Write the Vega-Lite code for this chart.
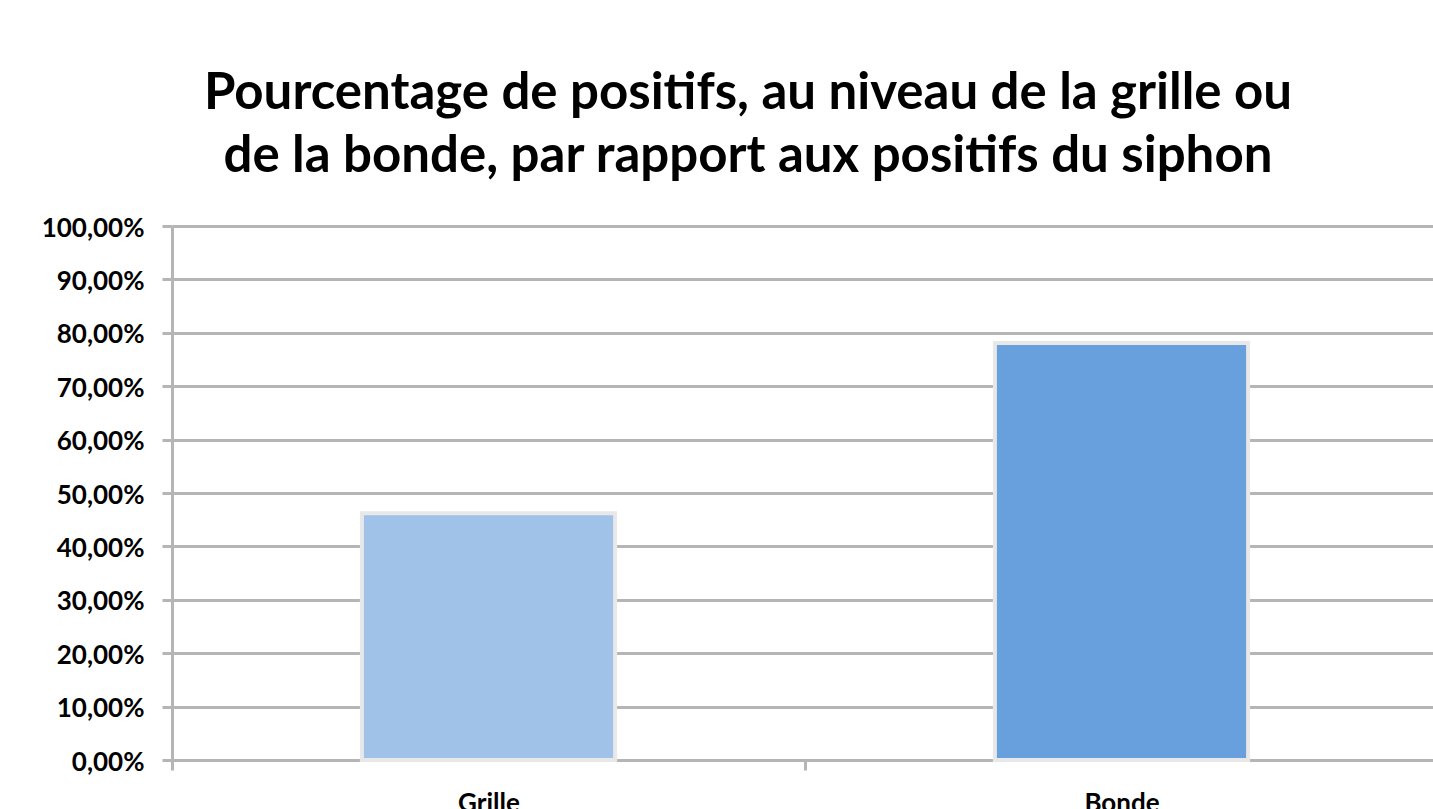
{
  "$schema": "https://vega.github.io/schema/vega-lite/v6.json",
  "autosize": {"type": "none"},
  "padding": {"left": 172, "top": 226, "right": 0, "bottom": 49},
  "width": 1266,
  "height": 534,
  "background": "white",
  "title": {
    "text": ["Pourcentage de positifs, au niveau de la grille ou", "de la bonde, par rapport aux positifs du siphon"],
    "font": "Lato",
    "fontWeight": "bold",
    "fontSize": 51,
    "lineHeight": 63,
    "color": "#000000",
    "anchor": "middle",
    "dx": -57,
    "offset": 32
  },
  "data": {
    "values": [
      {"categorie": "Grille", "pourcentage": 0.462},
      {"categorie": "Bonde", "pourcentage": 0.781}
    ]
  },
  "mark": {"type": "bar", "stroke": "#e8e8e8", "strokeWidth": 4, "width": {"band": 0.4}},
  "encoding": {
    "x": {
      "field": "categorie",
      "type": "nominal",
      "sort": ["Grille", "Bonde"],
      "scale": {"paddingInner": 0, "paddingOuter": 0},
      "axis": {
        "title": null,
        "labelAngle": 0,
        "labelFont": "Lato",
        "labelFontSize": 26,
        "labelFontWeight": "bold",
        "labelColor": "#000000",
        "labelPadding": 20,
        "tickBand": "extent",
        "tickSize": 10,
        "tickWidth": 3,
        "tickColor": "#b5b5b5",
        "domainColor": "#b5b5b5",
        "domainWidth": 3,
        "grid": false
      }
    },
    "y": {
      "field": "pourcentage",
      "type": "quantitative",
      "scale": {"domain": [0, 1], "nice": false},
      "axis": {
        "title": null,
        "values": [0, 0.1, 0.2, 0.3, 0.4, 0.5, 0.6, 0.7, 0.8, 0.9, 1],
        "labelExpr": "replace(format(datum.value, '.2%'), '.', ',')",
        "labelFont": "Lato",
        "labelFontSize": 26,
        "labelFontWeight": "bold",
        "labelColor": "#000000",
        "labelPadding": 18,
        "labelOffset": 2,
        "tickSize": 10,
        "tickWidth": 3,
        "tickColor": "#b5b5b5",
        "domainColor": "#b5b5b5",
        "domainWidth": 3,
        "grid": true,
        "gridColor": "#b5b5b5",
        "gridWidth": 3
      }
    },
    "color": {
      "field": "categorie",
      "type": "nominal",
      "scale": {"domain": ["Grille", "Bonde"], "range": ["#A0C2E9", "#67A0DC"]},
      "legend": null
    }
  },
  "config": {"view": {"stroke": null}}
}
